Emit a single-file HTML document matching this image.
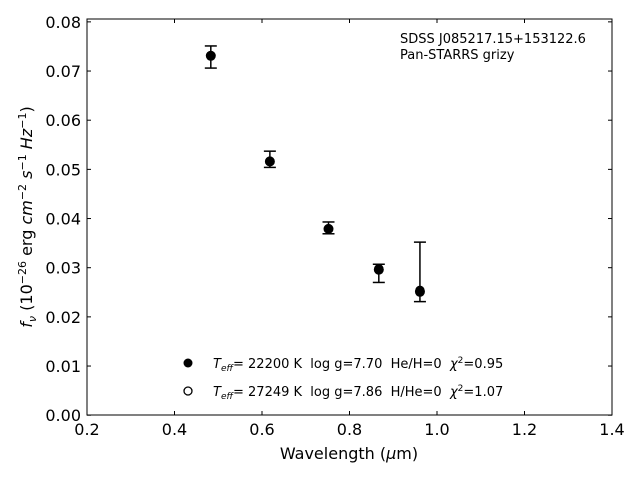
<!DOCTYPE html>
<html><head><meta charset="utf-8"><style>
html,body{margin:0;padding:0;background:#fff;}
svg{display:block;font-family:"DejaVu Sans","Liberation Sans",sans-serif;}
text{white-space:pre;}
</style></head><body>
<svg id="chart" width="640" height="480">
<rect x="87" y="19" width="525" height="396" fill="#fff" stroke="#000" stroke-width="1"/>
<g id="axes"></g>
<g id="marks"></g>
<text x="400" y="43" font-size="13">SDSS J085217.15+153122.6</text>
<text x="400" y="59" font-size="13">Pan-STARRS grizy</text>
<g>
<circle cx="188" cy="363" r="4.5" fill="#000"/>
<text x="213" y="368" font-size="13"><tspan font-style="italic">T</tspan><tspan font-size="9" dy="3" font-style="italic">eff</tspan><tspan dy="-3">= 22200 K  log g=7.70  He/H=0  </tspan><tspan font-style="italic">χ</tspan><tspan font-size="9" dy="-5">2</tspan><tspan dy="5">=0.95</tspan></text>
<circle cx="188" cy="391" r="4" fill="#fff" stroke="#000" stroke-width="1.3"/>
<text x="213" y="396" font-size="13"><tspan font-style="italic">T</tspan><tspan font-size="9" dy="3" font-style="italic">eff</tspan><tspan dy="-3">= 27249 K  log g=7.86  H/He=0  </tspan><tspan font-style="italic">χ</tspan><tspan font-size="9" dy="-5">2</tspan><tspan dy="5">=1.07</tspan></text>
</g>
<text x="349" y="459" font-size="16" text-anchor="middle">Wavelength (<tspan font-style="italic">μ</tspan>m)</text>
<text transform="translate(32,217) rotate(-90)" font-size="16" text-anchor="middle"><tspan font-style="italic">f</tspan><tspan font-size="11" dy="4" font-style="italic">ν</tspan><tspan dy="-4"> (10</tspan><tspan font-size="11" dy="-6">−26</tspan><tspan dy="6"> erg </tspan><tspan font-style="italic">cm</tspan><tspan font-size="11" dy="-6">−2</tspan><tspan dy="6"> </tspan><tspan font-style="italic">s</tspan><tspan font-size="11" dy="-6">−1</tspan><tspan dy="6"> </tspan><tspan font-style="italic">Hz</tspan><tspan font-size="11" dy="-6">−1</tspan><tspan dy="6">)</tspan></text>
</svg>
<script>
const wavelengths=[0.483,0.618,0.752,0.867,0.961];
const fluxObs=[0.0731,0.0516,0.0379,0.0296,0.0251];
const errHigh=[0.0751,0.0537,0.0393,0.0307,0.0352];
const errLow=[0.0706,0.0504,0.0369,0.0270,0.0231];
const modelHe=[0.0731,0.0517,0.0379,0.0298,0.0254];
const xTicks=[0.2,0.4,0.6,0.8,1.0,1.2,1.4];
const yTicks=[0,0.01,0.02,0.03,0.04,0.05,0.06,0.07,0.08];
const NS='http://www.w3.org/2000/svg';
const X=v=>87+(v-0.2)*437.5;
const Y=v=>415.2-v*4916.7;
function mk(t,a,p){const e=document.createElementNS(NS,t);for(const k in a)e.setAttribute(k,a[k]);p.appendChild(e);return e;}
const ax=document.getElementById('axes'),mg=document.getElementById('marks');
xTicks.forEach(t=>{const x=X(t);
const l=mk('line',{x1:x,x2:x,y1:415,y2:411,stroke:'#000'},ax);


const l2=mk('line',{x1:x,x2:x,y1:19,y2:23,stroke:'#000'},ax);


const tx=mk('text',{x:x,y:435,'font-size':16,'text-anchor':'middle'},ax);tx.textContent=t.toFixed(1);

});
yTicks.forEach(t=>{const y=Y(t);
const l=mk('line',{x1:87,x2:91,y1:y,y2:y,stroke:'#000'},ax);


const l2=mk('line',{x1:612,x2:608,y1:y,y2:y,stroke:'#000'},ax);


const tx=mk('text',{x:81,y:y+6,'font-size':16,'text-anchor':'end'},ax);tx.textContent=t.toFixed(2);

});
wavelengths.forEach((w,i)=>{const x=X(w);
const g=mk('g',{},mg);


mk('line',{x1:x,x2:x,y1:Y(errHigh[i]),y2:Y(errLow[i]),stroke:'#000','stroke-width':1.5},g);
mk('line',{x1:x-6,x2:x+6,y1:Y(errHigh[i]),y2:Y(errHigh[i]),stroke:'#000','stroke-width':1.5},g);
mk('line',{x1:x-6,x2:x+6,y1:Y(errLow[i]),y2:Y(errLow[i]),stroke:'#000','stroke-width':1.5},g);
mk('circle',{cx:x,cy:Y(modelHe[i]),r:4,fill:'#fff',stroke:'#000','stroke-width':1.3},g);
mk('circle',{cx:x,cy:Y(fluxObs[i]),r:5,fill:'#000'},g);});
</script>
</body></html>
